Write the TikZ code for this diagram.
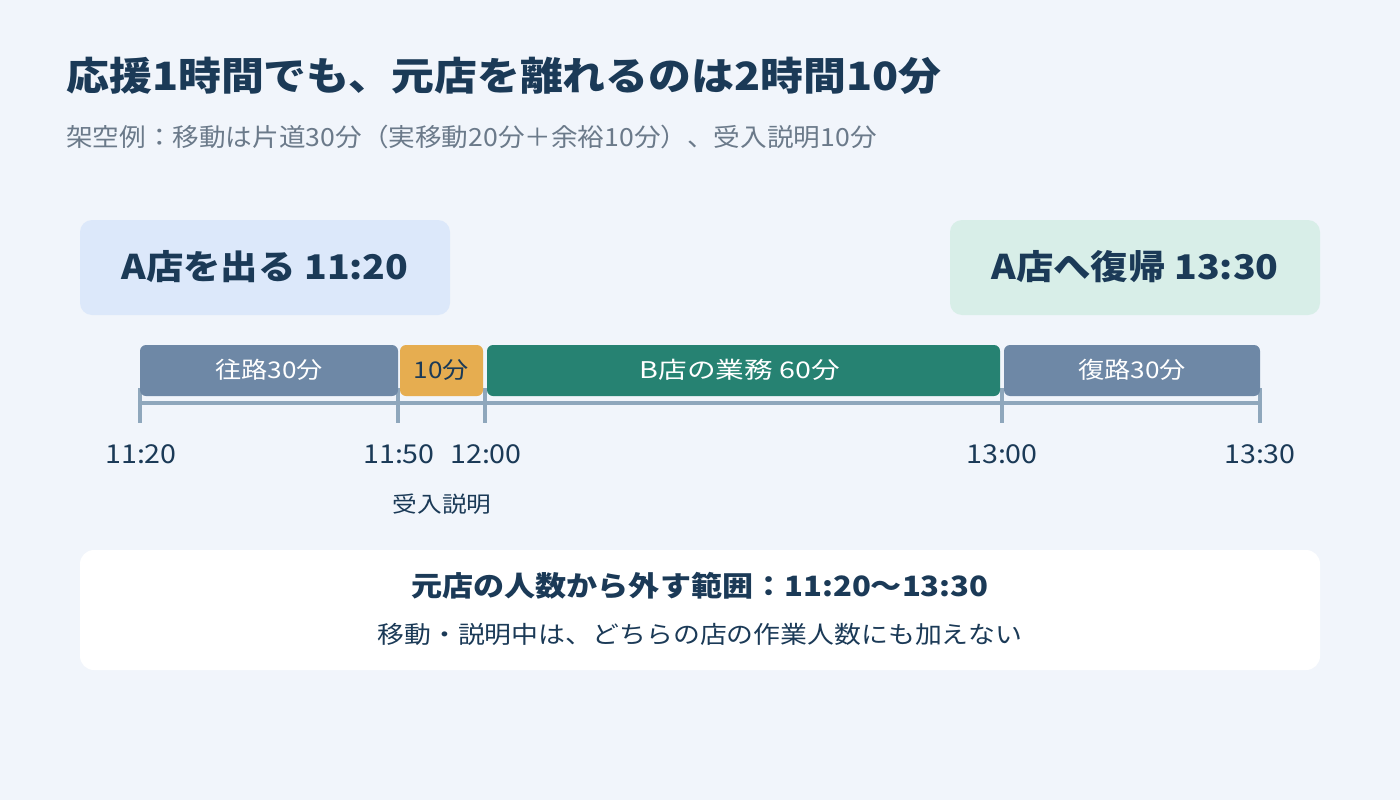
\documentclass[tikz,border=0pt]{standalone}
\usepackage{fontspec}
\setmainfont{Noto Sans CJK JP}
\definecolor{bg}{HTML}{F1F5FB}
\definecolor{navy}{HTML}{1B3A57}
\definecolor{subgray}{HTML}{6B7A8A}
\definecolor{boxblue}{HTML}{DCE8FA}
\definecolor{boxgreen}{HTML}{D8EEE8}
\definecolor{slate}{HTML}{6E88A6}
\definecolor{amber}{HTML}{E6AD50}
\definecolor{teal}{HTML}{268272}
\definecolor{axis}{HTML}{8FA7BC}
\tikzset{
  endbox/.style={inner sep=0pt, xscale=1.1, font=\fontsize{34}{40}\selectfont\bfseries, text=navy},
  segbar/.style={inner sep=0pt, xscale=1.14, font=\fontsize{23}{27}\selectfont, text=white},
  tick/.style={draw=axis, line width=4pt},
  timelbl/.style={inner sep=0pt, xscale=1.1, font=\fontsize{26}{30}\selectfont, text=navy, anchor=center},
}
\begin{document}
\begin{tikzpicture}[x=1pt,y=-1pt]
\fill[bg] (0,0) rectangle (1400,800);
\useasboundingbox (0,0) rectangle (1400,800);
\node[anchor=west, inner sep=0pt, xscale=1.1, font=\fontsize{39}{44}\selectfont\bfseries, text=navy] (title) at (66,76) {応援1時間でも、元店を離れるのは2時間10分};
\node[anchor=west, inner sep=0pt, xscale=1.065, font=\fontsize{25}{29}\selectfont, text=subgray] (sub) at (66,137) {架空例：移動は片道30分（実移動20分＋余裕10分）、受入説明10分};
% end boxes
\fill[boxblue, rounded corners=12pt] (80,220) rectangle (450,315);
\node[endbox] (leave) at (265,267) {A店を出る 11:20};
\fill[boxgreen, rounded corners=12pt] (950,220) rectangle (1320,315);
\node[endbox] (back) at (1135,267) {A店へ復帰 13:30};
% axis
\draw[draw=axis, line width=4pt] (140,403) -- (1260,403);
\foreach \x/\n in {140/t1,398/t2,485/t3,1002/t4,1260/t5}{
  \coordinate (\n top) at (\x,388);
  \coordinate (\n bot) at (\x,423);
  \draw[tick] (\n top) -- (\n bot);
}
% bars
\fill[slate, rounded corners=6pt] (140,345) rectangle (398,396);
\node[segbar] (go) at (269,370) {往路30分};
\fill[amber, rounded corners=6pt] (400,345) rectangle (483,396);
\node[segbar, text=navy] (brief) at (441.5,370) {10分};
\fill[teal, rounded corners=6pt] (487,345) rectangle (1000,396);
\node[segbar, xscale=1.094] (work) at (740,370) {B店の業務 60分};
\fill[slate, rounded corners=6pt] (1004,345) rectangle (1260,396);
\node[segbar] (ret) at (1132,370) {復路30分};
% time labels
\node[timelbl] (l1) at (141,454) {11:20};
\node[timelbl] (l2) at (399,454) {11:50};
\node[timelbl] (l3) at (486,454) {12:00};
\node[timelbl] (l4) at (1002,454) {13:00};
\node[timelbl] (l5) at (1260,454) {13:30};
\node[inner sep=0pt, xscale=1.12, font=\fontsize{22}{26}\selectfont, text=navy] (juuke) at (442,504) {受入説明};
% bottom box
\fill[white, rounded corners=14pt] (80,550) rectangle (1320,670);
\node[inner sep=0pt, xscale=1.11, font=\fontsize{28}{32}\selectfont\bfseries, text=navy] (range) at (700,586) {元店の人数から外す範囲：11:20〜13:30};
\node[inner sep=0pt, xscale=1.12, font=\fontsize{24}{28}\selectfont, text=navy] (note) at (700,634) {移動・説明中は、どちらの店の作業人数にも加えない};
\end{tikzpicture}
\end{document}
